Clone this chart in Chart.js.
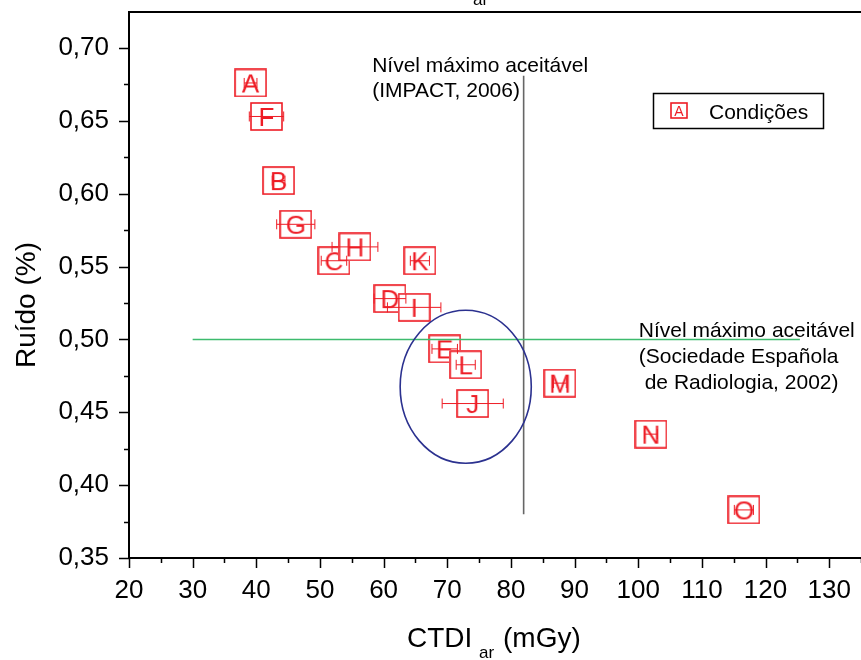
<!DOCTYPE html>
<html>
<head>
<meta charset="utf-8">
<script src="https://cdn.jsdelivr.net/npm/chart.js@4/dist/chart.umd.min.js"></script>
<style>
  html, body { margin: 0; padding: 0; background: #fff; }
  #grafico { display: block; }
</style>
</head>
<body>
<canvas id="grafico" width="861" height="660"></canvas>
<script>
// condicoes de aquisicao (rotulo de cada ponto)
const condicoes = ['A', 'B', 'C', 'D', 'E', 'F', 'G', 'H', 'I', 'J', 'K', 'L', 'M', 'N', 'O'];
// CTDI ar (mGy)
const ctdiAr = [39.1, 43.5, 52.2, 61.0, 69.6, 41.6, 46.2, 55.5, 64.8, 74.0, 65.7, 72.9, 87.7, 102.0, 116.6];
// erro do CTDI ar (mGy)
const ctdiErro = [1.0, 1.0, 2.0, 2.5, 2.0, 2.7, 3.0, 3.6, 4.2, 4.8, 1.5, 1.5, 1.0, 1.0, 1.5];
// ruido (%)
const ruido = [0.676, 0.609, 0.554, 0.528, 0.4935, 0.653, 0.579, 0.5635, 0.522, 0.456, 0.554, 0.4826, 0.470, 0.435, 0.383];

// marcas dos eixos
const ticksX = [20, 30, 40, 50, 60, 70, 80, 90, 100, 110, 120, 130];
const ticksY = [0.35, 0.40, 0.45, 0.50, 0.55, 0.60, 0.65, 0.70];

// niveis de referencia
const limiteCtdi = 82;            // IMPACT, 2006
const limiteCtdiRuido = [0.38, 0.681];
const limiteRuido = 0.50;         // Sociedade Espanola de Radiologia, 2002
const limiteRuidoCtdi = [30, 125.4];
// regiao destacada (elipse): centro e semi-eixos
const elipse = { x: 72.9, y: 0.4675, rx: 10.3, ry: 0.0525 };

const textoImpact = ['Nível máximo aceitável', '(IMPACT, 2006)'];
const textoSer = ['Nível máximo aceitável', '(Sociedade Española', ' de Radiologia, 2002)'];

const VERMELHO = '#ee1c25';
const FONTE = "'Liberation Sans', Arial, Helvetica, sans-serif";
Chart.defaults.font.family = FONTE;
Chart.defaults.color = '#000';

function CriarMarcador(letra, w, h, tamanho) {
    const c = document.createElement('canvas');
    c.width = w; c.height = h;
    const ctx = c.getContext('2d');
    ctx.fillStyle = '#fff';
    ctx.fillRect(0, 0, w, h);
    ctx.strokeStyle = VERMELHO;
    ctx.lineWidth = 1.6;
    ctx.strokeRect(1, 1, w - 2, h - 2);
    ctx.fillStyle = VERMELHO;
    ctx.font = tamanho + 'px ' + FONTE;
    ctx.textAlign = 'center';
    ctx.textBaseline = 'alphabetic';
    ctx.fillText(letra, w / 2, h / 2 + tamanho * 0.36);
    return c;
}

const marcadores = condicoes.map(function (l) { return CriarMarcador(l, 33, 29, 26); });

const pontos = ctdiAr.map(function (x, i) { return { x: x, y: ruido[i] }; });

const extras = {
    id: 'extras',
    afterDatasetsDraw: function (chart) {
        const ctx = chart.ctx;
        const sx = chart.scales.x, sy = chart.scales.y;
        const area = chart.chartArea;
        ctx.save();

        // barras de erro
        ctx.strokeStyle = VERMELHO;
        ctx.lineWidth = 1;
        ctdiAr.forEach(function (x, i) {
            const y = sy.getPixelForValue(ruido[i]);
            const x1 = sx.getPixelForValue(x - ctdiErro[i]);
            const x2 = sx.getPixelForValue(x + ctdiErro[i]);
            ctx.beginPath();
            ctx.moveTo(x1, y); ctx.lineTo(x2, y);
            ctx.moveTo(x1, y - 5); ctx.lineTo(x1, y + 5);
            ctx.moveTo(x2, y - 5); ctx.lineTo(x2, y + 5);
            ctx.stroke();
        });

        // linha vertical (IMPACT)
        ctx.strokeStyle = '#666';
        ctx.lineWidth = 1.6;
        ctx.beginPath();
        ctx.moveTo(sx.getPixelForValue(limiteCtdi), sy.getPixelForValue(limiteCtdiRuido[0]));
        ctx.lineTo(sx.getPixelForValue(limiteCtdi), sy.getPixelForValue(limiteCtdiRuido[1]));
        ctx.stroke();

        // linha horizontal (SER)
        ctx.strokeStyle = '#3dbb6e';
        ctx.lineWidth = 1.4;
        ctx.beginPath();
        ctx.moveTo(sx.getPixelForValue(limiteRuidoCtdi[0]), sy.getPixelForValue(limiteRuido));
        ctx.lineTo(sx.getPixelForValue(limiteRuidoCtdi[1]), sy.getPixelForValue(limiteRuido));
        ctx.stroke();

        // elipse
        const cx = sx.getPixelForValue(elipse.x), cy = sy.getPixelForValue(elipse.y);
        const rx = sx.getPixelForValue(elipse.x + elipse.rx) - cx;
        const ry = cy - sy.getPixelForValue(elipse.y + elipse.ry);
        ctx.strokeStyle = '#2b318f';
        ctx.lineWidth = 1.6;
        ctx.beginPath();
        ctx.ellipse(cx, cy, rx, ry, 0, 0, Math.PI * 2);
        ctx.stroke();

        // textos das anotacoes
        ctx.fillStyle = '#000';
        ctx.font = '21px ' + FONTE;
        ctx.textAlign = 'left';
        ctx.textBaseline = 'alphabetic';
        textoImpact.forEach(function (t, i) {
            ctx.fillText(t, sx.getPixelForValue(58.2), sy.getPixelForValue(0.6835) + i * 25);
        });
        textoSer.forEach(function (t, i) {
            ctx.fillText(t, sx.getPixelForValue(100.1), sy.getPixelForValue(0.5018) + i * 26);
        });

        // legenda
        ctx.strokeStyle = '#000';
        ctx.lineWidth = 1.5;
        ctx.strokeRect(653.5, 93.5, 170, 35);
        ctx.drawImage(CriarMarcador('A', 18, 17, 14), 670, 102);
        ctx.fillText('Condições', 709, 119);

        // moldura superior e marcas dos eixos
        ctx.strokeStyle = '#000';
        ctx.lineWidth = 2;
        ctx.beginPath();
        ctx.moveTo(area.left - 1, area.top); ctx.lineTo(area.right, area.top);
        ctx.stroke();
        ctx.lineWidth = 1.5;
        ctx.beginPath();
        for (let v = 20; v <= 135; v += 5) {
            const px = Math.round(sx.getPixelForValue(v)) + 0.5;
            const len = (v % 10 === 0) ? 10 : 5;
            ctx.moveTo(px, area.bottom); ctx.lineTo(px, area.bottom + len);
        }
        for (let k = 0; k <= 14; k++) {
            const v = 0.35 + k * 0.025;
            const py = Math.round(sy.getPixelForValue(v)) + 0.5;
            const len = (k % 2 === 0) ? 10 : 5;
            ctx.moveTo(area.left, py); ctx.lineTo(area.left - len, py);
        }
        ctx.stroke();

        // titulos dos eixos
        ctx.font = '28px ' + FONTE;
        ctx.fillText('CTDI', 407, 647);
        ctx.fillText('(mGy)', 503, 647);
        ctx.font = '17px ' + FONTE;
        ctx.fillText('ar', 479, 658);
        ctx.fillText('ar', 473, 5);
        ctx.save();
        ctx.translate(35, 305);
        ctx.rotate(-Math.PI / 2);
        ctx.font = '28px ' + FONTE;
        ctx.textAlign = 'center';
        ctx.fillText('Ruído (%)', 0, 0);
        ctx.restore();

        ctx.restore();
    }
};

new Chart(document.getElementById('grafico'), {
    type: 'scatter',
    data: {
        datasets: [{
            label: 'Condições',
            data: pontos,
            pointStyle: function (c) { return marcadores[c.dataIndex]; },
            pointRadius: 16,
            pointHoverRadius: 16,
            clip: false
        }]
    },
    options: {
        responsive: false,
        animation: false,
        events: [],
        layout: { autoPadding: false, padding: { top: 12, right: 0, left: 0, bottom: 0 } },
        plugins: {
            legend: { display: false },
            tooltip: { enabled: false }
        },
        scales: {
            x: {
                type: 'linear',
                min: 20,
                max: 135,
                afterBuildTicks: function (s) {
                    s.ticks = ticksX.map(function (v) { return { value: v }; });
                },
                afterFit: function (s) {
                    s.height = 102;
                    s.paddingLeft = 0; s.paddingRight = 0;
                },
                ticks: {
                    padding: 17,
                    maxRotation: 0,
                    autoSkip: false,
                    font: { size: 26 },
                    callback: function (v) { return String(v); }
                },
                grid: { display: true, drawOnChartArea: false, drawTicks: false },
                border: { display: true, color: '#000', width: 2 }
            },
            y: {
                type: 'linear',
                min: 0.35,
                max: 0.7247,
                afterBuildTicks: function (s) {
                    s.ticks = ticksY.map(function (v) { return { value: v }; });
                },
                afterFit: function (s) {
                    s.width = 129;
                    s.paddingTop = 0; s.paddingBottom = 0;
                },
                ticks: {
                    padding: 20,
                    autoSkip: false,
                    font: { size: 26 },
                    callback: function (v) { return v.toFixed(2).replace('.', ','); }
                },
                grid: { display: true, drawOnChartArea: false, drawTicks: false },
                border: { display: true, color: '#000', width: 2 }
            }
        }
    },
    plugins: [extras]
});
</script>
</body>
</html>
